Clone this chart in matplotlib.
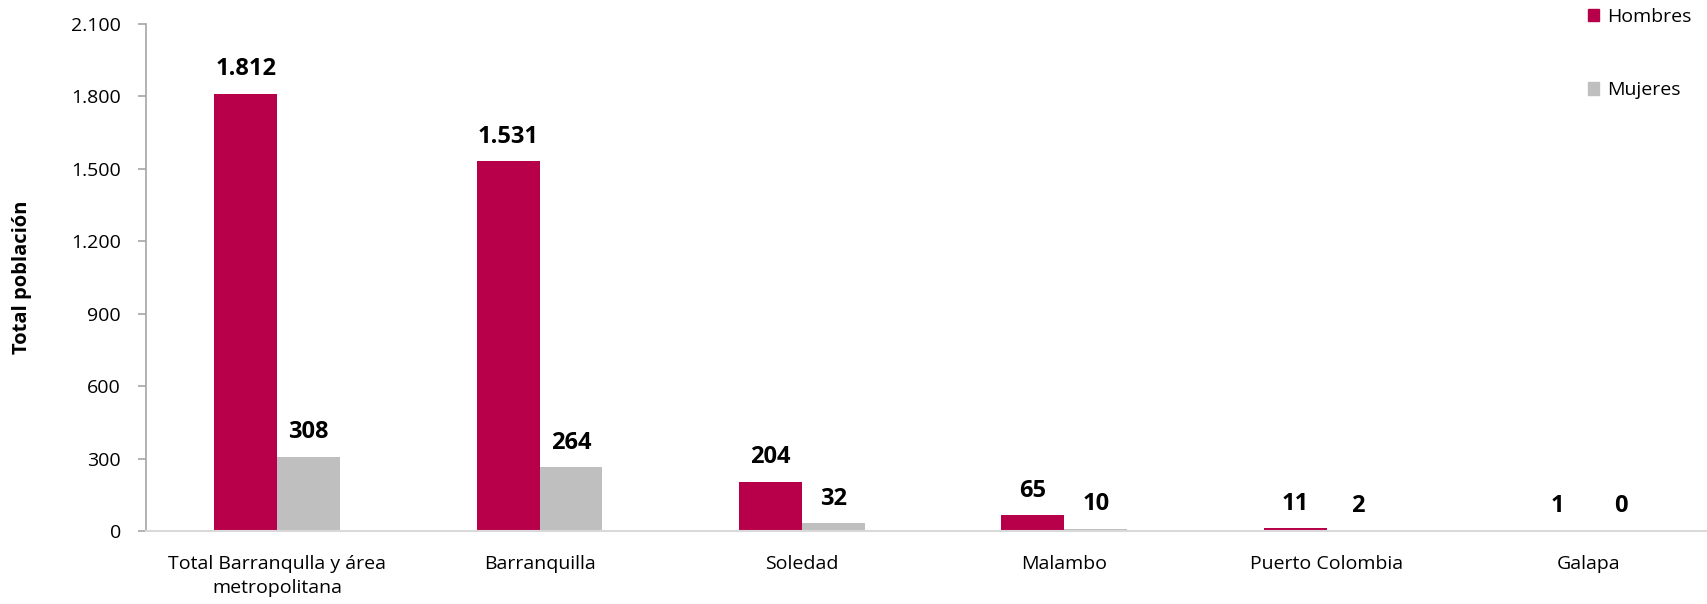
import matplotlib
matplotlib.use('Agg')
import matplotlib.pyplot as plt
import numpy as np
from matplotlib.patches import Rectangle

plt.rcParams['font.family'] = ['Open Sans', 'DejaVu Sans']

# datos
municipios = ['Total Barranqulla y área\nmetropolitana', 'Barranquilla', 'Soledad',
              'Malambo', 'Puerto Colombia', 'Galapa']
hombres = [1812, 1531, 204, 65, 11, 1]
mujeres = [308, 264, 32, 10, 2, 0]
yticks = [0, 300, 600, 900, 1200, 1500, 1800, 2100]

c_h = '#B8004A'
c_m = '#BFBFBF'

def fmt(v):
    return '{:,}'.format(v).replace(',', '.')

fig = plt.figure(figsize=(17.07, 6.04), dpi=100)
ax = fig.add_axes([146/1707, 1-531/604, (1707-146)/1707, (531-24)/604])

x = np.arange(len(municipios))
w = 0.24
b1 = ax.bar(x - w/2, hombres, w, color=c_h)
b2 = ax.bar(x + w/2, mujeres, w, color=c_m)

for bars, vals in [(b1, hombres), (b2, mujeres)]:
    for r, v in zip(bars, vals):
        ax.annotate(fmt(v), (r.get_x() + r.get_width()/2, r.get_height()),
                    xytext=(0, 9), textcoords='offset points',
                    ha='center', va='bottom', fontsize=17, fontweight='bold')

ax.set_xlim(-0.5, 5.45)
ax.set_ylim(0, 2100)
ax.set_yticks(yticks)
ax.set_yticklabels([fmt(v) for v in yticks], fontsize=14)
ax.set_xticks(x)
ax.set_xticklabels(municipios, fontsize=14, linespacing=1.45)
ax.tick_params(axis='x', length=0, pad=17)
ax.tick_params(axis='y', length=6, color='#A6A6A6', width=1.2, pad=12)

for s in ['top', 'right']:
    ax.spines[s].set_visible(False)
ax.spines['left'].set_color('#A6A6A6')
ax.spines['left'].set_linewidth(1.2)
ax.spines['bottom'].set_color('#D9D9D9')
ax.spines['bottom'].set_linewidth(1.5)

fig.text(22/1707, 1-(24+531)/2/604, 'Total población', rotation=90,
         ha='center', va='center', fontsize=14.5, fontweight='bold')

handles = [Rectangle((0, 0), 1, 1, color=c_h), Rectangle((0, 0), 1, 1, color=c_m)]
fig.legend(handles, ['Hombres', 'Mujeres'], loc='upper left',
           bbox_to_anchor=(1580/1707, 1.0), frameon=False,
           fontsize=14, handlelength=0.6, handleheight=0.6,
           handletextpad=0.4, labelspacing=2.85, borderaxespad=0)

plt.savefig('out.png', dpi=100)
